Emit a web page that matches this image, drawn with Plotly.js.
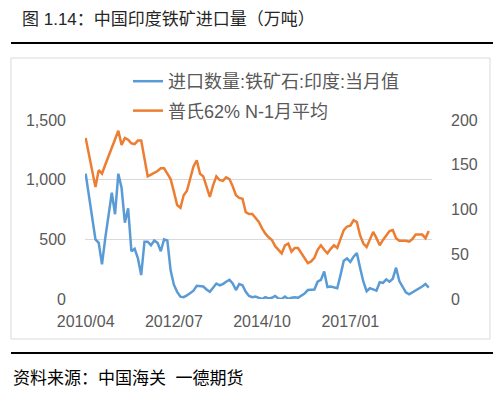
<!DOCTYPE html>
<html>
<head>
<meta charset="utf-8">
<script src="https://cdn.plot.ly/plotly-3.0.1.min.js"></script>
<style>
  html, body { margin: 0; padding: 0; background: #ffffff; }
  #chart { width: 500px; height: 394px; }
</style>
</head>
<body>
<div id="chart"></div>
<script>
// Monthly categories 2010/04 .. 2019/01
const startYear = 2010, startMonth = 4, monthCount = 106;
const months = [];
for (let i = 0; i < monthCount; i++) {
  const m = startMonth - 1 + i;
  const y = startYear + Math.floor(m / 12);
  const mm = (m % 12) + 1;
  months.push(y + '/' + (mm < 10 ? '0' + mm : '' + mm));
}

const tickLabels = ['2010/04', '2012/07', '2014/10', '2017/01'];

// 进口数量:铁矿石:印度:当月值 (万吨), left axis
const indiaImports = [
  1050, 870, 680, 500, 470, 290, 510, 700, 890, 710,
  1050, 930, 640, 760, 400, 420, 340, 200, 480, 480,
  450, 490, 470, 400, 500, 490, 240, 120, 60, 20,
  15, 30, 50, 70, 110, 110, 105, 80, 60, 95,
  130, 115, 125, 145, 160, 130, 75, 125, 115, 60,
  25, 15, 20, 10, 0, 15, 5, 10, 25, 5,
  0, 20, 0, 10, 15, 10, 25, 45, 75, 75,
  80, 145, 160, 230, 100, 105, 95, 90, 200, 320,
  340, 310, 355, 385, 260, 145, 65, 90, 80, 70,
  140, 135, 165, 145, 170, 262, 150, 100, 55, 40,
  55, 75, 90, 105, 126, 95
];

// 普氏62% N-1月平均, right axis
const platts62 = [
  180, 162, 142, 125, 144, 140, 150, 159, 168, 178,
  188, 172, 180, 178, 174, 173, 177, 177, 157, 137,
  139, 141, 143, 146, 146, 140, 134, 120, 105, 102,
  116, 121, 135, 148, 155, 140, 137, 125, 114, 127,
  137, 133, 132, 136, 134, 126, 116, 113, 112, 97,
  95, 95, 91, 86, 79, 73, 69, 66, 59, 55,
  51, 60, 62, 53, 57, 57, 51, 46, 40, 42,
  46, 55, 60, 55, 51, 56, 60, 57, 68, 77,
  81, 82, 88, 86, 71, 62, 58, 66, 75, 68,
  60, 66, 71, 76, 77, 68, 65, 65, 65, 64,
  67, 72, 72, 72, 68, 76
];

const W = 500, H = 394;
const mL = 85, mR = 68, mT = 120, mB = 95;
const pw = W - mL - mR, ph = H - mT - mB;
const px = x => (x - mL) / pw;
const py = y => (H - mB - y) / ph;

const tickFont = { family: 'Liberation Sans, Arial, sans-serif', size: 16, color: '#595959' };
const cjkFont = 'Liberation Sans, "Noto Sans CJK SC", sans-serif';

const traces = [
  {
    x: months, y: indiaImports, type: 'scatter', mode: 'lines',
    name: '进口数量:铁矿石:印度:当月值', legendgroup: 'a',
    line: { color: '#5B9BD5', width: 2.5 }, yaxis: 'y', hoverinfo: 'skip'
  },
  {
    x: months, y: platts62, type: 'scatter', mode: 'lines',
    name: '普氏62% N-1月平均', legendgroup: 'b',
    line: { color: '#ED7D31', width: 2.5 }, yaxis: 'y2', hoverinfo: 'skip'
  }
];

const layout = {
  width: W, height: H,
  margin: { l: mL, r: mR, t: mT, b: mB, pad: 0 },
  paper_bgcolor: '#ffffff', plot_bgcolor: 'rgba(0,0,0,0)',
  showlegend: true,
  legend: {
    x: px(128), y: py(63), xanchor: 'left', yanchor: 'top',
    bgcolor: 'rgba(0,0,0,0)', borderwidth: 0,
    font: { family: cjkFont, size: 18, color: '#595959' },
    traceorder: 'grouped', tracegroupgap: 3
  },
  xaxis: {
    type: 'category', range: [-0.2, 106],
    tickmode: 'array', tickvals: tickLabels, ticktext: tickLabels,
    showgrid: false, zeroline: false, showline: false, ticks: '',
    tickfont: tickFont, ticklabelstandoff: 11, fixedrange: true
  },
  yaxis: {
    range: [0, 1500], tickvals: [0, 500, 1000, 1500], tickformat: ',d',
    showgrid: true, gridcolor: '#d9d9d9', gridwidth: 1,
    zeroline: false, showline: false, ticks: '',
    tickfont: tickFont, ticklabelstandoff: 18, fixedrange: true
  },
  yaxis2: {
    overlaying: 'y', side: 'right', range: [0, 200], tickvals: [0, 50, 100, 150, 200],
    showgrid: false, zeroline: false, showline: false, ticks: '',
    tickfont: tickFont, ticklabelstandoff: 18, fixedrange: true
  },
  shapes: [
    { type: 'line', xref: 'paper', yref: 'paper', x0: px(11), x1: px(493), y0: py(43), y1: py(43),
      line: { color: '#000000', width: 2 } },
    { type: 'rect', xref: 'paper', yref: 'paper', x0: px(11), x1: px(490), y0: py(58), y1: py(339),
      line: { color: '#d9d9d9', width: 1 } },
    { type: 'line', xref: 'paper', yref: 'paper', x0: px(11), x1: px(493), y0: py(353), y1: py(353),
      line: { color: '#000000', width: 2 } }
  ],
  annotations: [
    { text: '图 1.14：中国印度铁矿进口量（万吨）', xref: 'paper', yref: 'paper',
      x: px(20), y: py(19), xanchor: 'left', yanchor: 'middle', showarrow: false,
      font: { family: cjkFont, size: 17, color: '#262626' } },
    { text: '资料来源：中国海关  一德期货', xref: 'paper', yref: 'paper',
      x: px(11), y: py(378), xanchor: 'left', yanchor: 'middle', showarrow: false,
      font: { family: cjkFont, size: 17, color: '#000000' } }
  ]
};

Plotly.newPlot('chart', traces, layout, { displayModeBar: false, staticPlot: true });
</script>
</body>
</html>
